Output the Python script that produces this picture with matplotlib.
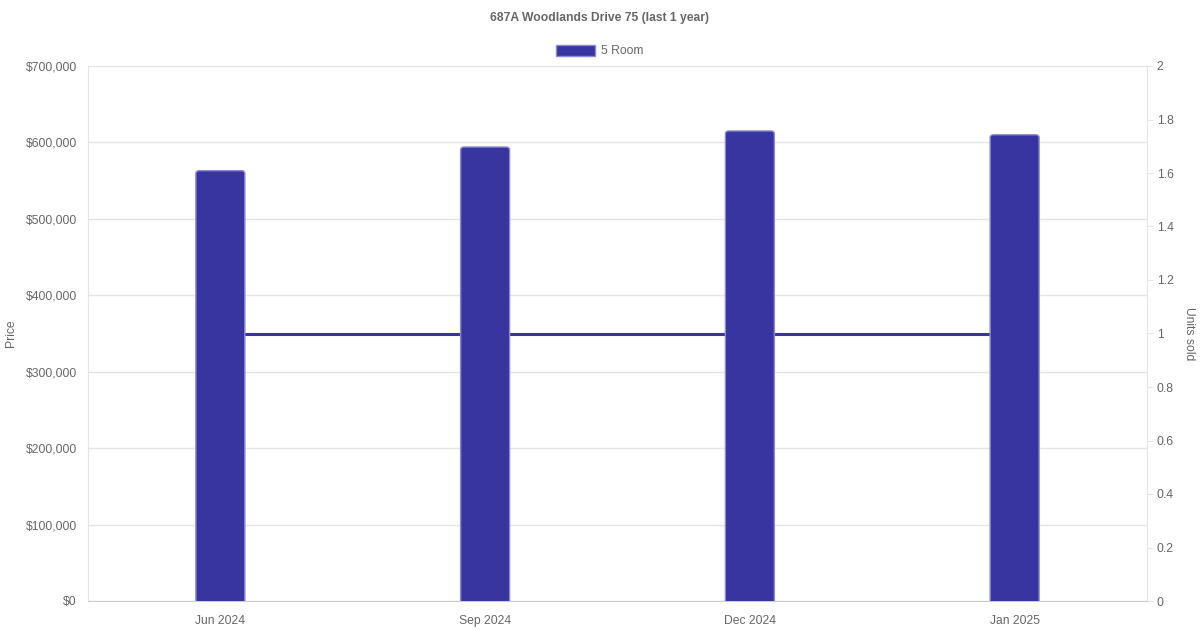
import matplotlib.pyplot as plt
from matplotlib.patches import FancyBboxPatch
from matplotlib.ticker import FuncFormatter, MultipleLocator

plt.rcParams['font.family'] = ['Liberation Sans', 'DejaVu Sans']

months = ['Jun 2024', 'Sep 2024', 'Dec 2024', 'Jan 2025']
prices = [563000, 594000, 615000, 610000]
units = [1, 1, 1, 1]
series_name = '5 Room'

bar_color = '#3834a0'
edge_color = '#8c89d4'
text_color = '#666666'
grid_color = '#e5e5e5'
fs = 8.7

fig = plt.figure(figsize=(12, 6.3), dpi=100)
ax = fig.add_axes([88 / 1200, 1 - 601 / 630, (1147 - 88) / 1200, (601 - 66) / 630])
ax2 = ax.twinx()

x = list(range(len(months)))
width = 0.185

# units line sits behind the bars
ax.set_zorder(2)
ax.patch.set_visible(False)
ax2.set_zorder(1)
ax2.plot(x, units, color=bar_color, lw=2.2, solid_capstyle='butt')
ax2.set_ylim(0, 2)
ax2.yaxis.set_major_locator(MultipleLocator(0.2))
ax2.yaxis.set_major_formatter(FuncFormatter(lambda v, p: f'{v:g}'))

# bars with rounded top corners (bottom pushed below zero so only top shows rounding)
for xi, p in zip(x, prices):
    bar = FancyBboxPatch((xi - width / 2, -20000), width, p + 20000,
                         boxstyle='round,pad=0,rounding_size=0.012',
                         mutation_aspect=300000,
                         facecolor=bar_color, edgecolor=edge_color, lw=1, zorder=3)
    ax.add_patch(bar)

ax.set_xlim(-0.5, len(months) - 0.5)
ax.set_ylim(0, 700000)
ax.yaxis.set_major_locator(MultipleLocator(100000))
ax.yaxis.set_major_formatter(FuncFormatter(lambda v, p: f'${int(v):,}'))
ax.set_xticks(x)
ax.set_xticklabels(months)

ax.grid(axis='y', color=grid_color, lw=1)
ax.set_axisbelow(True)

for a in (ax, ax2):
    for s in a.spines.values():
        s.set_visible(False)
ax.spines['left'].set_visible(True)
ax.spines['left'].set_color(grid_color)
ax.spines['bottom'].set_visible(True)
ax.spines['bottom'].set_color('#cccccc')
ax2.spines['right'].set_visible(True)
ax2.spines['right'].set_color(grid_color)

ax.tick_params(axis='y', length=0, labelcolor=text_color, labelsize=fs, pad=8)
ax.tick_params(axis='x', length=0, labelcolor=text_color, labelsize=fs, pad=10)
ax2.tick_params(axis='y', length=4.5, color=grid_color, labelcolor=text_color, labelsize=fs, pad=2.5)

ax.set_ylabel('Price', color=text_color, fontsize=fs, labelpad=6)
ax2.set_ylabel('Units sold', color=text_color, fontsize=fs, rotation=270, labelpad=15)

fig.text(0.5, 1 - 17.5 / 630, '687A Woodlands Drive 75 (last 1 year)', ha='center', va='center',
         fontsize=fs, fontweight='bold', color=text_color)

# legend
fig.patches.append(FancyBboxPatch((556 / 1200, 1 - 56 / 630), 39 / 1200, 11 / 630,
                                  boxstyle='square,pad=0', transform=fig.transFigure,
                                  facecolor=bar_color, edgecolor=edge_color, lw=1))
fig.text(601 / 1200, 1 - 51.5 / 630, series_name, ha='left', va='center', fontsize=fs, color=text_color)

fig.savefig('out.png', dpi=100, facecolor='white')
